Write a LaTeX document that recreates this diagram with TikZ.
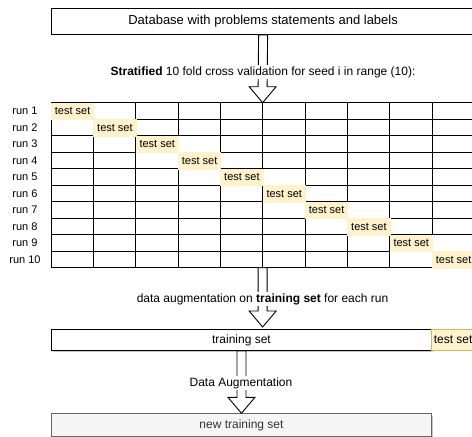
\documentclass[tikz,border=0pt]{standalone}
\usepackage{fontspec}
\setmainfont{Liberation Sans}
\usetikzlibrary{calc,positioning,shadows}
\definecolor{testfill}{HTML}{FFF2CC}
\definecolor{testline}{HTML}{D6B656}
\definecolor{newfill}{HTML}{F5F5F5}
\definecolor{newline}{HTML}{666666}
\definecolor{newtext}{HTML}{333333}

% hollow block arrow from #1 down to the tip #2
\newcommand{\flowarrow}[2]{%
  \draw[flow] ([xshift=-4.5pt]#1) -- ([xshift=-4.5pt,yshift=16pt]#2)
    -- ([xshift=-13.5pt,yshift=16pt]#2) -- (#2)
    -- ([xshift=13.5pt,yshift=16pt]#2) -- ([xshift=4.5pt,yshift=16pt]#2)
    -- ([xshift=4.5pt]#1) -- cycle;}

\begin{document}
\begin{tikzpicture}[x=1pt,y=-1pt,
  every node/.style={font=\fontsize{12}{14}\selectfont},
  box/.style={draw,line width=0.9pt,inner sep=0pt,anchor=north west},
  cell/.style={draw,line width=0.9pt},
  testcell/.style={fill=testfill,draw=testfill,line width=0.9pt,inner sep=0pt,anchor=north west,
    minimum width=42.33pt,minimum height=16.5pt,font=\fontsize{11}{13}\selectfont},
  runlabel/.style={font=\fontsize{11}{13}\selectfont},
  label/.style={fill=white,inner sep=1.5pt},
  flow/.style={draw,fill=white,line width=0.9pt,line join=miter},
  shade/.style={drop shadow={shadow xshift=2pt,shadow yshift=-2pt,fill=black!22,opacity=1}}]
  \useasboundingbox (0,0) rectangle (472,437);
  \clip (0,0) rectangle (472,437);

  % database
  \node[box,minimum width=423.3pt,minimum height=26pt,font=\fontsize{13}{15}\selectfont] (db) at (51,8)
    {Database with problems statements and labels};

  % folds
  \foreach \r in {1,...,10}{
    \node[runlabel] (run\r) at (25,{102.7+(\r-0.5)*16.5}) {run \r};
    \foreach \c in {1,...,10}
      \draw[cell] ({51+(\c-1)*42.33},{102.7+(\r-1)*16.5}) rectangle ++(42.33,16.5);
  }
  \foreach \r in {1,...,10}
    \node[testcell] (test\r) at ({51+(\r-1)*42.33},{102.7+(\r-1)*16.5}) {test set};
  \coordinate (gtop) at (262.65,102.7);
  \coordinate (gbot) at (262.65,267.7);
  \coordinate (tip2) at (262.65,327);

  % split of one run
  \node[box,shade,fill=white,minimum width=380pt,minimum height=20.7pt] (train) at (51,329.3) {training set};
  \node[box,fill=testfill,draw=testline,minimum width=43.3pt,minimum height=20.7pt] (trtest) at (431,329.3) {test set};
  \node[box,shade,fill=newfill,draw=newline,text=newtext,minimum width=380pt,minimum height=22.3pt] (newtrain)
    at (51,413.3) {new training set};

  \flowarrow{db.south}{gtop}
  \flowarrow{gbot}{tip2}
  \flowarrow{train.south}{newtrain.north}

  \node[label] (strat) at (263,72) {\textbf{Stratified} 10 fold cross validation for seed i in range (10):};
  \node[label] (aug) at (262.5,299.3) {data augmentation on \textbf{training set} for each run};
  \node[label] (dataaug) at (241,383) {Data Augmentation};
\end{tikzpicture}
\end{document}
